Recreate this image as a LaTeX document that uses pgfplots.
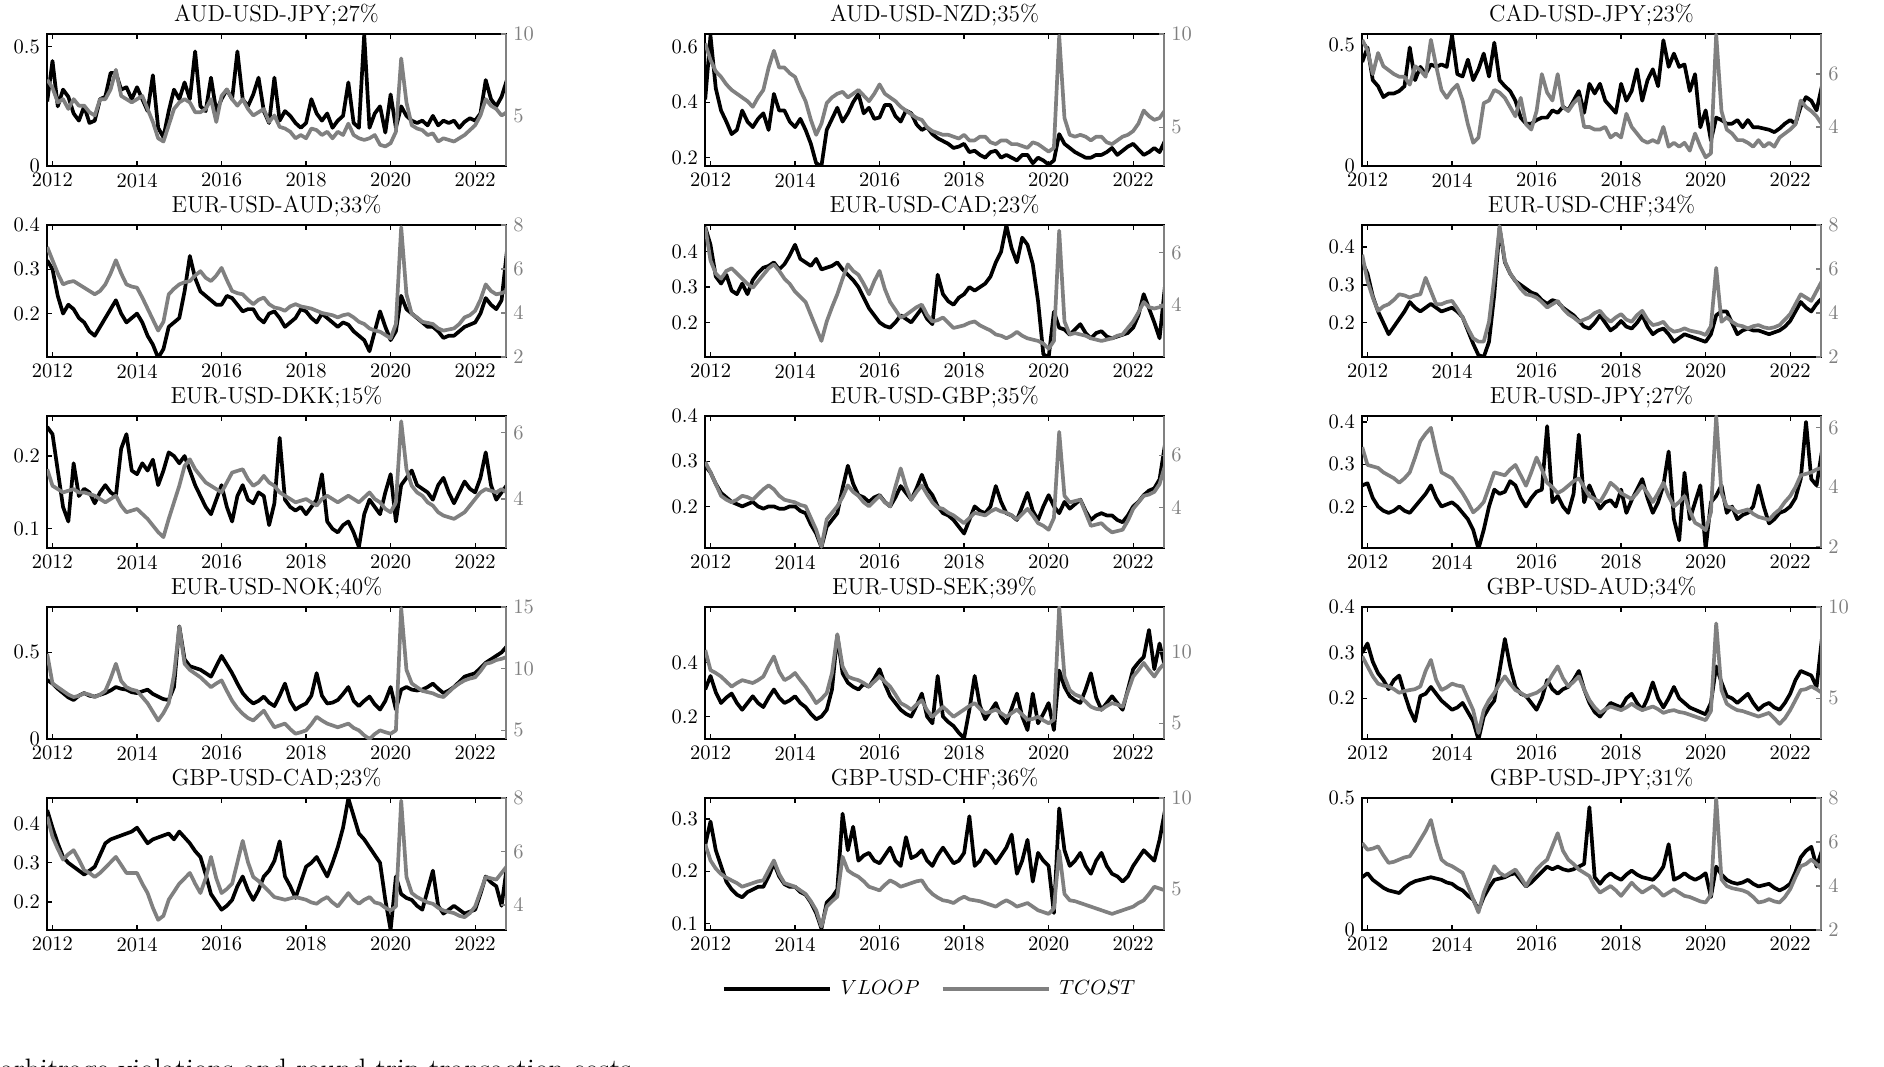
\documentclass[border=0pt]{standalone}
\usepackage{pgfplots}
\usepackage{pgfplotstable}
\pgfplotsset{compat=1.18}

\definecolor{tgray}{gray}{0.5}
\def\pxu{0.4878pt}

% ---------- VLOOP (v*) and TCOST (c*) series, 8 observations per year from 2011.875 ----------
\pgfplotstableread[row sep=\\]{y\\
0.27\\
0.44\\ 0.25\\ 0.32\\ 0.29\\ 0.22\\ 0.19\\ 0.25\\ 0.18\\
0.19\\ 0.28\\ 0.29\\ 0.39\\ 0.39\\ 0.32\\ 0.33\\ 0.28\\
0.33\\ 0.28\\ 0.23\\ 0.38\\ 0.16\\ 0.12\\ 0.23\\ 0.32\\
0.28\\ 0.35\\ 0.28\\ 0.48\\ 0.25\\ 0.23\\ 0.37\\ 0.23\\
0.28\\ 0.32\\ 0.28\\ 0.48\\ 0.28\\ 0.25\\ 0.30\\ 0.37\\
0.23\\ 0.18\\ 0.37\\ 0.19\\ 0.23\\ 0.21\\ 0.18\\ 0.16\\
0.18\\ 0.28\\ 0.22\\ 0.19\\ 0.22\\ 0.16\\ 0.19\\ 0.21\\
0.35\\ 0.18\\ 0.16\\ 0.55\\ 0.16\\ 0.22\\ 0.25\\ 0.14\\
0.30\\ 0.16\\ 0.25\\ 0.21\\ 0.19\\ 0.18\\ 0.19\\ 0.17\\
0.21\\ 0.17\\ 0.19\\ 0.18\\ 0.19\\ 0.16\\ 0.185\\ 0.20\\
0.19\\ 0.22\\ 0.36\\ 0.28\\ 0.25\\ 0.29\\ 0.36\\
}\vA
\pgfplotstableread[row sep=\\]{y\\
7.2\\
6.7\\ 5.8\\ 6.0\\ 5.4\\ 6.0\\ 5.6\\ 5.6\\ 5.2\\
5.0\\ 6.0\\ 6.0\\ 6.6\\ 7.8\\ 6.2\\ 6.0\\ 5.8\\
6.0\\ 6.2\\ 5.4\\ 4.6\\ 3.6\\ 3.4\\ 4.4\\ 5.4\\
5.8\\ 6.0\\ 5.8\\ 5.2\\ 5.2\\ 5.4\\ 6.0\\ 4.6\\
6.2\\ 6.6\\ 6.0\\ 5.6\\ 6.0\\ 5.4\\ 5.0\\ 5.2\\
5.4\\ 4.6\\ 5.0\\ 4.3\\ 4.2\\ 4.0\\ 3.6\\ 3.8\\
3.6\\ 4.2\\ 4.1\\ 3.8\\ 4.0\\ 3.6\\ 4.0\\ 3.8\\
4.5\\ 3.8\\ 3.6\\ 3.5\\ 3.6\\ 3.8\\ 3.2\\ 3.1\\
3.3\\ 4.0\\ 8.5\\ 5.8\\ 4.4\\ 4.2\\ 4.1\\ 3.8\\
3.9\\ 3.4\\ 3.6\\ 3.5\\ 3.4\\ 3.6\\ 3.8\\ 4.1\\
4.4\\ 5.0\\ 6.0\\ 5.6\\ 5.4\\ 5.0\\ 5.2\\
}\cA
\pgfplotstableread[row sep=\\]{y\\
0.41\\
0.64\\ 0.45\\ 0.37\\ 0.33\\ 0.285\\ 0.30\\ 0.37\\ 0.33\\
0.31\\ 0.34\\ 0.36\\ 0.30\\ 0.43\\ 0.37\\ 0.37\\ 0.33\\
0.31\\ 0.34\\ 0.30\\ 0.25\\ 0.18\\ 0.17\\ 0.30\\ 0.34\\
0.38\\ 0.33\\ 0.36\\ 0.40\\ 0.43\\ 0.36\\ 0.38\\ 0.34\\
0.345\\ 0.39\\ 0.39\\ 0.35\\ 0.33\\ 0.37\\ 0.36\\ 0.32\\
0.30\\ 0.31\\ 0.285\\ 0.27\\ 0.26\\ 0.25\\ 0.235\\ 0.24\\
0.25\\ 0.22\\ 0.225\\ 0.21\\ 0.20\\ 0.22\\ 0.225\\ 0.20\\
0.21\\ 0.20\\ 0.19\\ 0.21\\ 0.21\\ 0.18\\ 0.20\\ 0.19\\
0.175\\ 0.19\\ 0.285\\ 0.25\\ 0.235\\ 0.22\\ 0.21\\ 0.20\\
0.20\\ 0.21\\ 0.21\\ 0.22\\ 0.235\\ 0.21\\ 0.225\\ 0.24\\
0.25\\ 0.23\\ 0.21\\ 0.22\\ 0.235\\ 0.22\\ 0.26\\
}\vB
\pgfplotstableread[row sep=\\]{y\\
9.5\\
8.6\\ 8.0\\ 7.7\\ 7.3\\ 7.0\\ 6.8\\ 6.6\\ 6.4\\
6.1\\ 6.6\\ 7.0\\ 8.2\\ 9.1\\ 8.2\\ 8.2\\ 7.9\\
7.7\\ 7.0\\ 6.4\\ 5.4\\ 4.6\\ 5.2\\ 6.3\\ 6.6\\
6.8\\ 6.9\\ 6.6\\ 6.8\\ 7.0\\ 6.7\\ 6.4\\ 6.8\\
7.3\\ 6.8\\ 6.6\\ 6.4\\ 6.1\\ 5.9\\ 5.7\\ 5.5\\
5.4\\ 5.0\\ 4.8\\ 4.7\\ 4.6\\ 4.6\\ 4.5\\ 4.4\\
4.6\\ 4.3\\ 4.3\\ 4.5\\ 4.5\\ 4.2\\ 4.1\\ 4.3\\
4.3\\ 4.1\\ 4.1\\ 4.0\\ 3.9\\ 4.2\\ 4.1\\ 3.9\\
3.7\\ 3.9\\ 9.9\\ 5.5\\ 4.6\\ 4.5\\ 4.6\\ 4.5\\
4.3\\ 4.5\\ 4.5\\ 4.2\\ 4.1\\ 4.3\\ 4.5\\ 4.6\\
4.8\\ 5.2\\ 5.9\\ 5.6\\ 5.4\\ 5.5\\ 5.9\\
}\cB
\pgfplotstableread[row sep=\\]{y\\
0.43\\
0.49\\ 0.355\\ 0.33\\ 0.285\\ 0.30\\ 0.30\\ 0.31\\ 0.33\\
0.49\\ 0.355\\ 0.41\\ 0.38\\ 0.42\\ 0.41\\ 0.42\\ 0.41\\
0.54\\ 0.38\\ 0.37\\ 0.44\\ 0.355\\ 0.40\\ 0.465\\ 0.37\\
0.51\\ 0.355\\ 0.33\\ 0.31\\ 0.27\\ 0.20\\ 0.175\\ 0.175\\
0.19\\ 0.20\\ 0.20\\ 0.23\\ 0.22\\ 0.245\\ 0.23\\ 0.27\\
0.31\\ 0.22\\ 0.34\\ 0.30\\ 0.34\\ 0.27\\ 0.245\\ 0.22\\
0.34\\ 0.27\\ 0.31\\ 0.40\\ 0.27\\ 0.355\\ 0.40\\ 0.33\\
0.52\\ 0.41\\ 0.465\\ 0.41\\ 0.42\\ 0.31\\ 0.38\\ 0.16\\
0.23\\ 0.105\\ 0.20\\ 0.19\\ 0.175\\ 0.175\\ 0.19\\ 0.16\\
0.19\\ 0.16\\ 0.16\\ 0.155\\ 0.15\\ 0.14\\ 0.155\\ 0.175\\
0.19\\ 0.175\\ 0.245\\ 0.285\\ 0.27\\ 0.23\\ 0.33\\
}\vC
\pgfplotstableread[row sep=\\]{y\\
7.3\\
6.9\\ 6.0\\ 6.8\\ 6.3\\ 6.15\\ 6.0\\ 5.9\\ 5.9\\
5.6\\ 6.3\\ 6.15\\ 5.9\\ 7.3\\ 6.3\\ 5.4\\ 5.1\\
5.4\\ 5.6\\ 5.0\\ 4.1\\ 3.4\\ 3.6\\ 4.9\\ 5.0\\
5.4\\ 5.3\\ 5.1\\ 4.75\\ 4.4\\ 5.1\\ 4.1\\ 3.9\\
4.6\\ 6.0\\ 5.3\\ 5.0\\ 6.0\\ 4.75\\ 4.6\\ 4.9\\
5.1\\ 4.0\\ 4.0\\ 3.9\\ 3.9\\ 4.0\\ 3.6\\ 3.75\\
3.6\\ 4.5\\ 4.0\\ 3.75\\ 3.5\\ 3.4\\ 3.5\\ 3.4\\
4.0\\ 3.25\\ 3.4\\ 3.25\\ 3.4\\ 3.1\\ 3.75\\ 3.25\\
2.85\\ 3.0\\ 7.5\\ 4.6\\ 3.9\\ 3.75\\ 3.5\\ 3.5\\
3.4\\ 3.25\\ 3.5\\ 3.25\\ 3.4\\ 3.25\\ 3.6\\ 3.75\\
3.9\\ 4.1\\ 5.0\\ 4.75\\ 4.6\\ 4.4\\ 4.1\\
}\cC
\pgfplotstableread[row sep=\\]{y\\
0.32\\
0.30\\ 0.24\\ 0.20\\ 0.22\\ 0.21\\ 0.19\\ 0.18\\ 0.16\\
0.15\\ 0.17\\ 0.19\\ 0.21\\ 0.23\\ 0.20\\ 0.18\\ 0.19\\
0.20\\ 0.18\\ 0.15\\ 0.13\\ 0.10\\ 0.12\\ 0.17\\ 0.18\\
0.19\\ 0.25\\ 0.33\\ 0.28\\ 0.25\\ 0.24\\ 0.23\\ 0.22\\
0.22\\ 0.24\\ 0.235\\ 0.22\\ 0.205\\ 0.21\\ 0.21\\ 0.19\\
0.18\\ 0.20\\ 0.205\\ 0.19\\ 0.17\\ 0.18\\ 0.19\\ 0.21\\
0.205\\ 0.19\\ 0.18\\ 0.20\\ 0.19\\ 0.18\\ 0.17\\ 0.18\\
0.175\\ 0.16\\ 0.15\\ 0.14\\ 0.115\\ 0.16\\ 0.205\\ 0.17\\
0.14\\ 0.16\\ 0.24\\ 0.21\\ 0.20\\ 0.19\\ 0.18\\ 0.17\\
0.17\\ 0.16\\ 0.145\\ 0.15\\ 0.15\\ 0.16\\ 0.17\\ 0.175\\
0.18\\ 0.20\\ 0.235\\ 0.22\\ 0.21\\ 0.23\\ 0.34\\
}\vD
\pgfplotstableread[row sep=\\]{y\\
7.0\\
6.4\\ 5.8\\ 5.3\\ 5.4\\ 5.45\\ 5.3\\ 5.15\\ 5.0\\
4.85\\ 5.0\\ 5.3\\ 5.8\\ 6.4\\ 5.8\\ 5.3\\ 5.2\\
5.15\\ 4.7\\ 4.2\\ 3.7\\ 3.2\\ 3.6\\ 4.85\\ 5.1\\
5.3\\ 5.4\\ 5.45\\ 5.7\\ 5.9\\ 5.6\\ 5.45\\ 5.7\\
6.05\\ 5.5\\ 5.0\\ 4.9\\ 4.85\\ 4.6\\ 4.4\\ 4.6\\
4.7\\ 4.4\\ 4.25\\ 4.2\\ 4.1\\ 4.3\\ 4.4\\ 4.3\\
4.25\\ 4.2\\ 4.1\\ 4.0\\ 3.95\\ 3.9\\ 3.8\\ 3.9\\
3.95\\ 3.8\\ 3.6\\ 3.5\\ 3.3\\ 3.2\\ 3.15\\ 3.0\\
2.85\\ 3.5\\ 7.9\\ 4.85\\ 3.95\\ 3.8\\ 3.6\\ 3.55\\
3.5\\ 3.3\\ 3.2\\ 3.25\\ 3.3\\ 3.5\\ 3.8\\ 3.9\\
4.1\\ 4.6\\ 5.3\\ 5.0\\ 4.85\\ 4.9\\ 5.0\\
}\cD
\pgfplotstableread[row sep=\\]{y\\
0.47\\
0.42\\ 0.33\\ 0.31\\ 0.335\\ 0.29\\ 0.28\\ 0.31\\ 0.28\\
0.32\\ 0.34\\ 0.355\\ 0.36\\ 0.37\\ 0.35\\ 0.365\\ 0.39\\
0.42\\ 0.38\\ 0.37\\ 0.36\\ 0.38\\ 0.35\\ 0.355\\ 0.36\\
0.37\\ 0.35\\ 0.335\\ 0.32\\ 0.30\\ 0.27\\ 0.24\\ 0.22\\
0.20\\ 0.19\\ 0.185\\ 0.20\\ 0.22\\ 0.21\\ 0.20\\ 0.22\\
0.24\\ 0.21\\ 0.195\\ 0.335\\ 0.28\\ 0.26\\ 0.25\\ 0.27\\
0.28\\ 0.30\\ 0.29\\ 0.30\\ 0.31\\ 0.33\\ 0.37\\ 0.40\\
0.475\\ 0.41\\ 0.37\\ 0.44\\ 0.42\\ 0.365\\ 0.26\\ 0.11\\
0.10\\ 0.23\\ 0.185\\ 0.18\\ 0.165\\ 0.18\\ 0.195\\ 0.17\\
0.155\\ 0.17\\ 0.175\\ 0.16\\ 0.155\\ 0.16\\ 0.165\\ 0.17\\
0.185\\ 0.22\\ 0.28\\ 0.24\\ 0.20\\ 0.155\\ 0.30\\
}\vE
\pgfplotstableread[row sep=\\]{y\\
7.0\\
5.7\\ 5.2\\ 5.0\\ 5.3\\ 5.4\\ 5.2\\ 5.0\\ 4.8\\
4.65\\ 4.9\\ 5.15\\ 5.4\\ 5.55\\ 5.3\\ 5.0\\ 4.8\\
4.5\\ 4.3\\ 4.1\\ 3.6\\ 3.1\\ 2.6\\ 3.35\\ 3.9\\
4.4\\ 5.0\\ 5.55\\ 5.3\\ 5.15\\ 4.8\\ 4.4\\ 4.9\\
5.3\\ 4.6\\ 4.1\\ 3.8\\ 3.5\\ 3.6\\ 3.75\\ 3.9\\
4.0\\ 3.6\\ 3.35\\ 3.4\\ 3.5\\ 3.3\\ 3.1\\ 3.15\\
3.2\\ 3.3\\ 3.35\\ 3.2\\ 3.1\\ 3.0\\ 2.85\\ 2.8\\
2.7\\ 2.8\\ 2.95\\ 2.8\\ 2.7\\ 2.65\\ 2.6\\ 2.5\\
2.3\\ 2.6\\ 6.85\\ 3.35\\ 2.85\\ 2.9\\ 2.85\\ 2.8\\
2.7\\ 2.65\\ 2.6\\ 2.65\\ 2.7\\ 2.8\\ 2.85\\ 3.1\\
3.35\\ 3.7\\ 4.1\\ 3.9\\ 3.85\\ 3.9\\ 4.0\\
}\cE
\pgfplotstableread[row sep=\\]{y\\
0.36\\
0.33\\ 0.27\\ 0.23\\ 0.20\\ 0.17\\ 0.19\\ 0.21\\ 0.23\\
0.255\\ 0.24\\ 0.23\\ 0.24\\ 0.25\\ 0.24\\ 0.23\\ 0.235\\
0.24\\ 0.23\\ 0.215\\ 0.18\\ 0.145\\ 0.115\\ 0.11\\ 0.15\\
0.275\\ 0.45\\ 0.36\\ 0.33\\ 0.31\\ 0.30\\ 0.29\\ 0.28\\
0.275\\ 0.26\\ 0.25\\ 0.26\\ 0.255\\ 0.24\\ 0.23\\ 0.22\\
0.205\\ 0.19\\ 0.185\\ 0.20\\ 0.22\\ 0.20\\ 0.18\\ 0.19\\
0.205\\ 0.19\\ 0.185\\ 0.20\\ 0.22\\ 0.19\\ 0.17\\ 0.18\\
0.185\\ 0.17\\ 0.15\\ 0.16\\ 0.17\\ 0.165\\ 0.16\\ 0.155\\
0.15\\ 0.17\\ 0.22\\ 0.23\\ 0.23\\ 0.20\\ 0.17\\ 0.18\\
0.185\\ 0.18\\ 0.18\\ 0.175\\ 0.17\\ 0.175\\ 0.18\\ 0.19\\
0.205\\ 0.23\\ 0.255\\ 0.24\\ 0.23\\ 0.25\\ 0.265\\
}\vF
\pgfplotstableread[row sep=\\]{y\\
6.65\\
5.45\\ 4.7\\ 4.1\\ 4.3\\ 4.4\\ 4.6\\ 4.85\\ 4.8\\
4.7\\ 4.8\\ 4.85\\ 5.6\\ 5.0\\ 4.4\\ 4.4\\ 4.5\\
4.55\\ 4.2\\ 3.8\\ 3.3\\ 2.85\\ 2.7\\ 2.7\\ 3.6\\
5.6\\ 7.95\\ 6.35\\ 5.8\\ 5.45\\ 5.1\\ 4.85\\ 4.8\\
4.7\\ 4.5\\ 4.25\\ 4.4\\ 4.55\\ 4.2\\ 3.95\\ 3.8\\
3.6\\ 3.7\\ 3.8\\ 4.0\\ 4.1\\ 3.8\\ 3.6\\ 3.8\\
3.95\\ 3.7\\ 3.6\\ 3.9\\ 4.1\\ 3.7\\ 3.45\\ 3.5\\
3.6\\ 3.3\\ 3.15\\ 3.2\\ 3.3\\ 3.2\\ 3.15\\ 3.1\\
3.0\\ 3.4\\ 6.05\\ 3.6\\ 3.8\\ 3.6\\ 3.45\\ 3.4\\
3.3\\ 3.4\\ 3.45\\ 3.35\\ 3.3\\ 3.35\\ 3.45\\ 3.7\\
3.95\\ 4.4\\ 4.85\\ 4.7\\ 4.55\\ 5.0\\ 5.45\\
}\cF
\pgfplotstableread[row sep=\\]{y\\
0.24\\
0.23\\ 0.18\\ 0.13\\ 0.11\\ 0.19\\ 0.145\\ 0.155\\ 0.15\\
0.135\\ 0.15\\ 0.16\\ 0.15\\ 0.145\\ 0.21\\ 0.23\\ 0.18\\
0.175\\ 0.19\\ 0.18\\ 0.195\\ 0.16\\ 0.18\\ 0.205\\ 0.20\\
0.19\\ 0.20\\ 0.18\\ 0.16\\ 0.145\\ 0.13\\ 0.12\\ 0.14\\
0.16\\ 0.13\\ 0.11\\ 0.145\\ 0.16\\ 0.14\\ 0.135\\ 0.15\\
0.145\\ 0.105\\ 0.135\\ 0.225\\ 0.14\\ 0.13\\ 0.125\\ 0.13\\
0.12\\ 0.13\\ 0.14\\ 0.175\\ 0.11\\ 0.10\\ 0.095\\ 0.105\\
0.11\\ 0.095\\ 0.075\\ 0.12\\ 0.14\\ 0.13\\ 0.12\\ 0.15\\
0.175\\ 0.11\\ 0.16\\ 0.17\\ 0.18\\ 0.16\\ 0.155\\ 0.15\\
0.14\\ 0.16\\ 0.17\\ 0.15\\ 0.135\\ 0.15\\ 0.165\\ 0.155\\
0.15\\ 0.17\\ 0.205\\ 0.16\\ 0.14\\ 0.15\\ 0.16\\
}\vG
\pgfplotstableread[row sep=\\]{y\\
4.9\\
4.4\\ 4.3\\ 4.2\\ 4.25\\ 4.3\\ 4.2\\ 4.2\\ 4.15\\
4.1\\ 4.0\\ 3.9\\ 4.0\\ 4.1\\ 3.8\\ 3.6\\ 3.65\\
3.7\\ 3.55\\ 3.4\\ 3.2\\ 3.0\\ 2.85\\ 3.4\\ 3.9\\
4.4\\ 5.0\\ 5.2\\ 4.9\\ 4.7\\ 4.5\\ 4.4\\ 4.3\\
4.2\\ 4.5\\ 4.8\\ 4.85\\ 4.9\\ 4.6\\ 4.4\\ 4.5\\
4.7\\ 4.5\\ 4.4\\ 4.2\\ 4.1\\ 4.0\\ 3.9\\ 3.95\\
4.0\\ 3.9\\ 3.8\\ 4.0\\ 4.1\\ 4.0\\ 3.9\\ 4.0\\
4.1\\ 4.0\\ 3.9\\ 4.05\\ 4.2\\ 4.0\\ 3.9\\ 3.7\\
3.6\\ 3.9\\ 6.35\\ 4.9\\ 4.4\\ 4.2\\ 4.1\\ 3.9\\
3.8\\ 3.6\\ 3.5\\ 3.45\\ 3.4\\ 3.5\\ 3.6\\ 3.8\\
4.0\\ 4.2\\ 4.3\\ 4.25\\ 4.2\\ 4.3\\ 4.2\\
}\cG
\pgfplotstableread[row sep=\\]{y\\
0.29\\
0.275\\ 0.25\\ 0.23\\ 0.22\\ 0.21\\ 0.205\\ 0.20\\ 0.205\\
0.21\\ 0.20\\ 0.195\\ 0.20\\ 0.20\\ 0.195\\ 0.195\\ 0.20\\
0.20\\ 0.19\\ 0.185\\ 0.16\\ 0.14\\ 0.11\\ 0.155\\ 0.17\\
0.185\\ 0.24\\ 0.29\\ 0.25\\ 0.225\\ 0.22\\ 0.21\\ 0.22\\
0.225\\ 0.21\\ 0.20\\ 0.22\\ 0.245\\ 0.23\\ 0.215\\ 0.24\\
0.27\\ 0.24\\ 0.225\\ 0.20\\ 0.185\\ 0.18\\ 0.17\\ 0.155\\
0.14\\ 0.17\\ 0.20\\ 0.19\\ 0.185\\ 0.20\\ 0.245\\ 0.21\\
0.185\\ 0.18\\ 0.17\\ 0.20\\ 0.23\\ 0.19\\ 0.17\\ 0.20\\
0.225\\ 0.20\\ 0.185\\ 0.21\\ 0.195\\ 0.205\\ 0.215\\ 0.19\\
0.17\\ 0.18\\ 0.185\\ 0.18\\ 0.18\\ 0.17\\ 0.165\\ 0.18\\
0.20\\ 0.21\\ 0.225\\ 0.235\\ 0.24\\ 0.26\\ 0.335\\
}\vH
\pgfplotstableread[row sep=\\]{y\\
5.75\\
5.35\\ 4.9\\ 4.45\\ 4.3\\ 4.2\\ 4.3\\ 4.45\\ 4.4\\
4.3\\ 4.5\\ 4.7\\ 4.85\\ 4.7\\ 4.45\\ 4.3\\ 4.25\\
4.2\\ 4.1\\ 4.05\\ 3.6\\ 3.15\\ 2.5\\ 3.55\\ 3.8\\
4.05\\ 4.4\\ 4.85\\ 4.6\\ 4.45\\ 4.2\\ 4.05\\ 4.25\\
4.45\\ 4.2\\ 4.05\\ 4.8\\ 5.5\\ 4.8\\ 4.3\\ 4.6\\
4.85\\ 4.5\\ 4.2\\ 4.0\\ 3.95\\ 3.8\\ 3.7\\ 3.55\\
3.4\\ 3.6\\ 3.8\\ 3.75\\ 3.7\\ 3.85\\ 3.95\\ 3.85\\
3.8\\ 3.7\\ 3.55\\ 3.75\\ 3.95\\ 3.7\\ 3.4\\ 3.3\\
3.15\\ 3.6\\ 6.9\\ 4.45\\ 4.2\\ 4.25\\ 4.3\\ 3.8\\
3.3\\ 3.35\\ 3.4\\ 3.2\\ 3.05\\ 3.1\\ 3.15\\ 3.5\\
3.95\\ 4.2\\ 4.45\\ 4.5\\ 4.6\\ 4.9\\ 5.6\\
}\cH
\pgfplotstableread[row sep=\\]{y\\
0.25\\
0.255\\ 0.22\\ 0.20\\ 0.19\\ 0.185\\ 0.19\\ 0.20\\ 0.19\\
0.185\\ 0.20\\ 0.215\\ 0.23\\ 0.25\\ 0.22\\ 0.20\\ 0.205\\
0.21\\ 0.20\\ 0.185\\ 0.17\\ 0.145\\ 0.10\\ 0.145\\ 0.20\\
0.24\\ 0.23\\ 0.235\\ 0.26\\ 0.25\\ 0.22\\ 0.20\\ 0.22\\
0.235\\ 0.24\\ 0.39\\ 0.21\\ 0.225\\ 0.20\\ 0.185\\ 0.23\\
0.37\\ 0.21\\ 0.25\\ 0.22\\ 0.195\\ 0.21\\ 0.215\\ 0.20\\
0.24\\ 0.185\\ 0.215\\ 0.24\\ 0.265\\ 0.22\\ 0.185\\ 0.21\\
0.25\\ 0.33\\ 0.17\\ 0.12\\ 0.28\\ 0.17\\ 0.21\\ 0.25\\
0.10\\ 0.21\\ 0.225\\ 0.25\\ 0.185\\ 0.20\\ 0.17\\ 0.18\\
0.185\\ 0.20\\ 0.25\\ 0.20\\ 0.16\\ 0.17\\ 0.185\\ 0.19\\
0.20\\ 0.22\\ 0.265\\ 0.40\\ 0.265\\ 0.25\\ 0.33\\
}\vI
\pgfplotstableread[row sep=\\]{y\\
5.35\\
4.75\\ 4.7\\ 4.65\\ 4.5\\ 4.4\\ 4.3\\ 4.15\\ 4.3\\
4.5\\ 5.0\\ 5.55\\ 5.8\\ 6.0\\ 5.2\\ 4.5\\ 4.4\\
4.3\\ 4.05\\ 3.8\\ 3.5\\ 3.15\\ 3.3\\ 3.5\\ 4.0\\
4.5\\ 4.45\\ 4.4\\ 4.6\\ 4.75\\ 4.4\\ 4.05\\ 4.5\\
5.0\\ 4.6\\ 4.15\\ 4.0\\ 3.8\\ 3.9\\ 4.05\\ 4.2\\
4.3\\ 4.0\\ 3.7\\ 3.6\\ 3.5\\ 3.8\\ 4.15\\ 4.0\\
3.8\\ 3.7\\ 3.6\\ 3.8\\ 4.05\\ 3.8\\ 3.5\\ 3.8\\
4.15\\ 3.7\\ 3.35\\ 3.5\\ 3.7\\ 3.2\\ 2.8\\ 2.7\\
2.55\\ 3.15\\ 6.4\\ 3.8\\ 3.35\\ 3.3\\ 3.15\\ 3.2\\
3.25\\ 3.1\\ 3.0\\ 2.95\\ 2.9\\ 3.1\\ 3.25\\ 3.5\\
3.7\\ 4.0\\ 4.4\\ 4.45\\ 4.5\\ 4.6\\ 4.65\\
}\cI
\pgfplotstableread[row sep=\\]{y\\
0.34\\
0.32\\ 0.29\\ 0.265\\ 0.24\\ 0.225\\ 0.25\\ 0.265\\ 0.25\\
0.245\\ 0.255\\ 0.265\\ 0.28\\ 0.30\\ 0.29\\ 0.285\\ 0.27\\
0.265\\ 0.275\\ 0.285\\ 0.26\\ 0.245\\ 0.23\\ 0.225\\ 0.30\\
0.65\\ 0.46\\ 0.42\\ 0.41\\ 0.40\\ 0.38\\ 0.36\\ 0.42\\
0.48\\ 0.43\\ 0.38\\ 0.32\\ 0.265\\ 0.23\\ 0.205\\ 0.22\\
0.245\\ 0.21\\ 0.19\\ 0.25\\ 0.32\\ 0.22\\ 0.17\\ 0.19\\
0.205\\ 0.25\\ 0.38\\ 0.25\\ 0.205\\ 0.21\\ 0.225\\ 0.26\\
0.30\\ 0.22\\ 0.19\\ 0.22\\ 0.245\\ 0.20\\ 0.17\\ 0.22\\
0.30\\ 0.17\\ 0.285\\ 0.30\\ 0.285\\ 0.28\\ 0.285\\ 0.30\\
0.32\\ 0.29\\ 0.265\\ 0.28\\ 0.30\\ 0.33\\ 0.36\\ 0.37\\
0.38\\ 0.41\\ 0.44\\ 0.46\\ 0.48\\ 0.50\\ 0.535\\
}\vJ
\pgfplotstableread[row sep=\\]{y\\
11.2\\
8.8\\ 8.5\\ 8.2\\ 7.9\\ 7.7\\ 7.8\\ 8.0\\ 7.9\\
7.7\\ 7.9\\ 8.2\\ 9.2\\ 10.4\\ 9.0\\ 8.5\\ 8.3\\
8.2\\ 7.7\\ 7.2\\ 6.5\\ 5.8\\ 6.4\\ 7.2\\ 9.5\\
13.4\\ 10.4\\ 9.9\\ 9.6\\ 9.3\\ 8.9\\ 8.5\\ 8.8\\
9.05\\ 8.2\\ 7.4\\ 6.8\\ 6.35\\ 6.0\\ 5.8\\ 6.2\\
6.6\\ 5.9\\ 5.25\\ 5.4\\ 5.55\\ 5.1\\ 4.73\\ 4.85\\
5.0\\ 5.5\\ 6.1\\ 5.8\\ 5.55\\ 5.4\\ 5.25\\ 5.4\\
5.55\\ 5.2\\ 5.0\\ 4.6\\ 4.3\\ 4.7\\ 5.0\\ 4.85\\
4.73\\ 5.0\\ 14.9\\ 9.9\\ 8.8\\ 8.5\\ 8.2\\ 8.1\\
8.0\\ 7.8\\ 7.7\\ 8.1\\ 8.5\\ 8.8\\ 9.05\\ 9.2\\
9.3\\ 9.8\\ 10.4\\ 10.5\\ 10.7\\ 10.8\\ 10.95\\
}\cJ
\pgfplotstableread[row sep=\\]{y\\
0.30\\
0.35\\ 0.29\\ 0.25\\ 0.27\\ 0.285\\ 0.25\\ 0.225\\ 0.25\\
0.275\\ 0.25\\ 0.235\\ 0.27\\ 0.30\\ 0.27\\ 0.25\\ 0.26\\
0.275\\ 0.25\\ 0.235\\ 0.21\\ 0.19\\ 0.20\\ 0.225\\ 0.30\\
0.50\\ 0.36\\ 0.325\\ 0.31\\ 0.30\\ 0.32\\ 0.31\\ 0.34\\
0.375\\ 0.32\\ 0.275\\ 0.25\\ 0.225\\ 0.21\\ 0.20\\ 0.24\\
0.285\\ 0.20\\ 0.175\\ 0.35\\ 0.20\\ 0.18\\ 0.165\\ 0.14\\
0.12\\ 0.225\\ 0.35\\ 0.24\\ 0.19\\ 0.22\\ 0.25\\ 0.20\\
0.175\\ 0.23\\ 0.285\\ 0.20\\ 0.15\\ 0.285\\ 0.175\\ 0.21\\
0.25\\ 0.15\\ 0.37\\ 0.31\\ 0.275\\ 0.26\\ 0.25\\ 0.30\\
0.36\\ 0.27\\ 0.225\\ 0.25\\ 0.275\\ 0.25\\ 0.225\\ 0.30\\
0.375\\ 0.40\\ 0.42\\ 0.52\\ 0.375\\ 0.47\\ 0.385\\
}\vK
\pgfplotstableread[row sep=\\]{y\\
10.1\\
8.7\\ 8.5\\ 8.25\\ 7.9\\ 7.55\\ 7.8\\ 8.0\\ 7.9\\
7.8\\ 8.0\\ 8.25\\ 9.0\\ 9.65\\ 8.6\\ 8.0\\ 8.2\\
8.5\\ 8.0\\ 7.55\\ 7.0\\ 6.4\\ 6.7\\ 7.1\\ 8.5\\
11.2\\ 8.95\\ 8.25\\ 8.1\\ 8.0\\ 7.8\\ 7.55\\ 7.9\\
8.25\\ 7.9\\ 7.55\\ 7.0\\ 6.4\\ 6.2\\ 5.95\\ 6.3\\
6.6\\ 5.9\\ 5.45\\ 5.8\\ 6.15\\ 5.8\\ 5.45\\ 5.7\\
5.95\\ 6.2\\ 6.4\\ 6.0\\ 5.7\\ 5.8\\ 5.95\\ 5.7\\
5.45\\ 5.7\\ 5.95\\ 5.6\\ 5.25\\ 5.3\\ 5.45\\ 5.2\\
5.0\\ 5.25\\ 13.1\\ 8.25\\ 7.3\\ 7.0\\ 6.85\\ 6.5\\
6.15\\ 6.0\\ 5.95\\ 6.2\\ 6.4\\ 6.3\\ 6.15\\ 7.2\\
8.25\\ 8.7\\ 9.2\\ 8.7\\ 8.25\\ 8.8\\ 9.2\\
}\cK
\pgfplotstableread[row sep=\\]{y\\
0.30\\
0.32\\ 0.28\\ 0.255\\ 0.24\\ 0.22\\ 0.24\\ 0.25\\ 0.21\\
0.175\\ 0.15\\ 0.205\\ 0.21\\ 0.225\\ 0.21\\ 0.195\\ 0.185\\
0.175\\ 0.18\\ 0.19\\ 0.17\\ 0.15\\ 0.11\\ 0.16\\ 0.18\\
0.195\\ 0.26\\ 0.33\\ 0.27\\ 0.225\\ 0.21\\ 0.205\\ 0.19\\
0.175\\ 0.20\\ 0.24\\ 0.22\\ 0.21\\ 0.22\\ 0.225\\ 0.24\\
0.26\\ 0.22\\ 0.19\\ 0.17\\ 0.16\\ 0.175\\ 0.19\\ 0.185\\
0.18\\ 0.20\\ 0.21\\ 0.19\\ 0.175\\ 0.20\\ 0.235\\ 0.20\\
0.18\\ 0.20\\ 0.225\\ 0.20\\ 0.19\\ 0.18\\ 0.175\\ 0.17\\
0.165\\ 0.19\\ 0.27\\ 0.235\\ 0.205\\ 0.20\\ 0.19\\ 0.20\\
0.21\\ 0.19\\ 0.175\\ 0.185\\ 0.19\\ 0.18\\ 0.175\\ 0.19\\
0.21\\ 0.24\\ 0.26\\ 0.255\\ 0.25\\ 0.225\\ 0.33\\
}\vL
\pgfplotstableread[row sep=\\]{y\\
7.3\\
6.75\\ 6.2\\ 5.8\\ 5.7\\ 5.65\\ 5.5\\ 5.3\\ 5.4\\
5.45\\ 5.5\\ 5.65\\ 6.5\\ 7.1\\ 6.0\\ 5.45\\ 5.6\\
5.8\\ 5.7\\ 5.65\\ 5.0\\ 4.35\\ 3.1\\ 4.35\\ 4.9\\
5.3\\ 5.8\\ 6.2\\ 5.8\\ 5.45\\ 5.3\\ 5.1\\ 5.2\\
5.3\\ 5.5\\ 5.8\\ 6.3\\ 6.75\\ 6.1\\ 5.65\\ 5.9\\
6.2\\ 5.5\\ 4.9\\ 4.5\\ 4.2\\ 4.4\\ 4.55\\ 4.45\\
4.35\\ 4.5\\ 4.7\\ 4.5\\ 4.35\\ 4.45\\ 4.55\\ 4.4\\
4.2\\ 4.3\\ 4.35\\ 4.25\\ 4.2\\ 4.1\\ 4.0\\ 3.9\\
3.8\\ 4.3\\ 9.1\\ 5.45\\ 4.7\\ 4.5\\ 4.35\\ 4.3\\
4.2\\ 4.1\\ 4.0\\ 4.1\\ 4.2\\ 3.9\\ 3.6\\ 3.9\\
4.35\\ 4.9\\ 5.45\\ 5.5\\ 5.65\\ 5.5\\ 5.3\\
}\cL
\pgfplotstableread[row sep=\\]{y\\
0.435\\
0.39\\ 0.35\\ 0.315\\ 0.30\\ 0.29\\ 0.28\\ 0.27\\ 0.28\\
0.29\\ 0.32\\ 0.35\\ 0.36\\ 0.365\\ 0.37\\ 0.375\\ 0.38\\
0.39\\ 0.37\\ 0.35\\ 0.36\\ 0.365\\ 0.37\\ 0.375\\ 0.36\\
0.38\\ 0.365\\ 0.35\\ 0.33\\ 0.315\\ 0.27\\ 0.22\\ 0.20\\
0.18\\ 0.19\\ 0.205\\ 0.24\\ 0.265\\ 0.23\\ 0.205\\ 0.23\\
0.265\\ 0.28\\ 0.305\\ 0.355\\ 0.265\\ 0.24\\ 0.21\\ 0.25\\
0.29\\ 0.30\\ 0.315\\ 0.29\\ 0.265\\ 0.30\\ 0.34\\ 0.39\\
0.465\\ 0.42\\ 0.375\\ 0.36\\ 0.34\\ 0.32\\ 0.30\\ 0.205\\
0.128\\ 0.265\\ 0.22\\ 0.21\\ 0.205\\ 0.19\\ 0.18\\ 0.23\\
0.28\\ 0.19\\ 0.17\\ 0.18\\ 0.19\\ 0.18\\ 0.17\\ 0.175\\
0.18\\ 0.22\\ 0.265\\ 0.25\\ 0.24\\ 0.19\\ 0.29\\
}\vM
\pgfplotstableread[row sep=\\]{y\\
7.3\\
6.55\\ 6.1\\ 5.7\\ 5.9\\ 6.05\\ 5.7\\ 5.3\\ 5.2\\
5.05\\ 5.2\\ 5.4\\ 5.6\\ 5.8\\ 5.5\\ 5.2\\ 5.2\\
5.2\\ 4.8\\ 4.45\\ 3.9\\ 3.45\\ 3.6\\ 4.2\\ 4.5\\
4.8\\ 5.0\\ 5.2\\ 4.8\\ 4.45\\ 5.0\\ 5.8\\ 5.0\\
4.45\\ 4.6\\ 4.8\\ 5.6\\ 6.4\\ 5.6\\ 5.05\\ 4.9\\
4.7\\ 4.5\\ 4.3\\ 4.25\\ 4.2\\ 4.25\\ 4.3\\ 4.25\\
4.2\\ 4.1\\ 4.05\\ 4.2\\ 4.3\\ 4.1\\ 3.95\\ 4.2\\
4.45\\ 4.2\\ 4.05\\ 4.2\\ 4.3\\ 4.1\\ 4.05\\ 3.9\\
3.8\\ 3.95\\ 7.9\\ 5.05\\ 4.45\\ 4.3\\ 4.2\\ 4.1\\
4.05\\ 3.9\\ 3.8\\ 3.75\\ 3.7\\ 3.6\\ 3.55\\ 3.7\\
3.95\\ 4.5\\ 5.05\\ 5.0\\ 4.95\\ 5.2\\ 5.45\\
}\cM
\pgfplotstableread[row sep=\\]{y\\
0.25\\
0.295\\ 0.24\\ 0.21\\ 0.18\\ 0.165\\ 0.155\\ 0.15\\ 0.16\\
0.165\\ 0.17\\ 0.17\\ 0.19\\ 0.215\\ 0.19\\ 0.175\\ 0.17\\
0.17\\ 0.16\\ 0.155\\ 0.14\\ 0.12\\ 0.09\\ 0.14\\ 0.15\\
0.165\\ 0.31\\ 0.24\\ 0.285\\ 0.22\\ 0.23\\ 0.235\\ 0.22\\
0.215\\ 0.23\\ 0.245\\ 0.22\\ 0.21\\ 0.265\\ 0.225\\ 0.23\\
0.24\\ 0.22\\ 0.21\\ 0.23\\ 0.245\\ 0.23\\ 0.215\\ 0.22\\
0.235\\ 0.305\\ 0.21\\ 0.22\\ 0.24\\ 0.23\\ 0.215\\ 0.23\\
0.245\\ 0.27\\ 0.195\\ 0.22\\ 0.26\\ 0.18\\ 0.235\\ 0.22\\
0.21\\ 0.12\\ 0.32\\ 0.24\\ 0.21\\ 0.22\\ 0.235\\ 0.21\\
0.195\\ 0.22\\ 0.235\\ 0.21\\ 0.195\\ 0.19\\ 0.18\\ 0.19\\
0.21\\ 0.225\\ 0.24\\ 0.23\\ 0.22\\ 0.26\\ 0.315\\
}\vN
\pgfplotstableread[row sep=\\]{y\\
7.45\\
6.55\\ 6.1\\ 5.8\\ 5.6\\ 5.45\\ 5.3\\ 5.1\\ 5.2\\
5.3\\ 5.4\\ 5.45\\ 6.0\\ 6.55\\ 5.8\\ 5.3\\ 5.2\\
5.1\\ 4.9\\ 4.7\\ 4.3\\ 3.8\\ 2.9\\ 4.0\\ 4.3\\
4.55\\ 6.75\\ 6.0\\ 5.8\\ 5.65\\ 5.4\\ 5.1\\ 5.0\\
4.9\\ 5.2\\ 5.45\\ 5.3\\ 5.1\\ 5.2\\ 5.3\\ 5.4\\
5.45\\ 5.0\\ 4.7\\ 4.5\\ 4.35\\ 4.3\\ 4.2\\ 4.4\\
4.55\\ 4.4\\ 4.35\\ 4.3\\ 4.2\\ 4.1\\ 4.0\\ 4.2\\
4.35\\ 4.2\\ 4.0\\ 4.1\\ 4.2\\ 4.0\\ 3.8\\ 3.7\\
3.6\\ 3.9\\ 7.1\\ 4.7\\ 4.35\\ 4.3\\ 4.2\\ 4.1\\
4.0\\ 3.9\\ 3.8\\ 3.7\\ 3.6\\ 3.7\\ 3.8\\ 3.9\\
4.0\\ 4.2\\ 4.35\\ 4.7\\ 5.1\\ 5.0\\ 4.9\\
}\cN
\pgfplotstableread[row sep=\\]{y\\
0.20\\
0.215\\ 0.19\\ 0.175\\ 0.16\\ 0.15\\ 0.145\\ 0.14\\ 0.16\\
0.175\\ 0.185\\ 0.19\\ 0.195\\ 0.20\\ 0.195\\ 0.19\\ 0.18\\
0.175\\ 0.16\\ 0.15\\ 0.13\\ 0.115\\ 0.075\\ 0.125\\ 0.16\\
0.19\\ 0.195\\ 0.20\\ 0.21\\ 0.215\\ 0.19\\ 0.165\\ 0.18\\
0.20\\ 0.22\\ 0.24\\ 0.23\\ 0.24\\ 0.23\\ 0.225\\ 0.23\\
0.24\\ 0.25\\ 0.465\\ 0.20\\ 0.175\\ 0.20\\ 0.215\\ 0.20\\
0.19\\ 0.21\\ 0.225\\ 0.21\\ 0.20\\ 0.195\\ 0.19\\ 0.21\\
0.24\\ 0.325\\ 0.19\\ 0.20\\ 0.215\\ 0.20\\ 0.19\\ 0.20\\
0.215\\ 0.125\\ 0.24\\ 0.21\\ 0.19\\ 0.18\\ 0.175\\ 0.18\\
0.19\\ 0.175\\ 0.165\\ 0.17\\ 0.175\\ 0.16\\ 0.15\\ 0.16\\
0.175\\ 0.22\\ 0.275\\ 0.30\\ 0.315\\ 0.24\\ 0.30\\
}\vO
\pgfplotstableread[row sep=\\]{y\\
5.95\\
5.65\\ 5.7\\ 5.8\\ 5.4\\ 5.05\\ 5.1\\ 5.2\\ 5.3\\
5.35\\ 5.7\\ 6.1\\ 6.5\\ 7.0\\ 6.0\\ 5.2\\ 5.0\\
4.9\\ 4.75\\ 4.6\\ 4.0\\ 3.4\\ 2.8\\ 3.7\\ 4.3\\
4.9\\ 4.6\\ 4.45\\ 4.6\\ 4.75\\ 4.4\\ 4.0\\ 4.4\\
4.75\\ 5.0\\ 5.2\\ 5.8\\ 6.4\\ 5.6\\ 5.2\\ 5.0\\
4.75\\ 4.6\\ 4.45\\ 4.0\\ 3.7\\ 3.85\\ 4.0\\ 3.8\\
3.55\\ 3.85\\ 4.15\\ 3.9\\ 3.7\\ 3.85\\ 4.0\\ 3.8\\
3.55\\ 3.7\\ 3.85\\ 3.7\\ 3.55\\ 3.5\\ 3.4\\ 3.3\\
3.25\\ 3.6\\ 8.0\\ 4.3\\ 4.0\\ 3.9\\ 3.85\\ 3.8\\
3.7\\ 3.5\\ 3.25\\ 3.3\\ 3.4\\ 3.3\\ 3.25\\ 3.5\\
3.85\\ 4.4\\ 4.9\\ 5.0\\ 5.2\\ 5.0\\ 4.75\\
}\cO

\pgfplotsset{
  base/.style={
    scale only axis, width=223.9pt, height=64.4pt,
    anchor=south west,
    xmin=2011.87, xmax=2022.73,
    tick align=inside, major tick length=2.4pt,
    axis line style={line width=0.6pt},
    every tick/.style={line width=0.6pt},
    scaled y ticks=false,
    yticklabel style={/pgf/number format/fixed},
  },
  leftax/.style={
    base,
    xtick={2012,2014,...,2022},
    xticklabels={2012,2014,2016,2018,2020,2022},
    xtick pos=both, ytick pos=left,
    every axis title shift=6pt,
    title style={font=\fontsize{11.3}{13}\selectfont, anchor=base},
  },
  rightax/.style={
    base,
    axis x line=none, axis y line*=right,
    y axis line style={tgray},
    every y tick/.style={tgray, line width=0.6pt},
    yticklabel style={tgray},
  },
  vloop/.style={black, line width=1.8pt, line join=round, mark=none},
  tcost/.style={tgray, line width=1.8pt, line join=round, mark=none},
}

% one panel: left axis with VLOOP, right axis with TCOST
\newcommand{\leftpanel}[7]{% x, y(bottom), title, table, ymin, ymax, ticks
  \begin{axis}[leftax, at={(#1*\pxu,-#2*\pxu)}, title={#3}, ymin=#5, ymax=#6, ytick={#7}]
    \addplot[vloop] table[x expr={2011.875+0.125*\coordindex}, y index=0] {#4};
  \end{axis}}
\newcommand{\rightpanel}[6]{% x, y(bottom), table, ymin, ymax, ticks
  \begin{axis}[rightax, at={(#1*\pxu,-#2*\pxu)}, ymin=#4, ymax=#5, ytick={#6}]
    \addplot[tcost] table[x expr={2011.875+0.125*\coordindex}, y index=0] {#3};
  \end{axis}}

\begin{document}
\begin{tikzpicture}
% row 1
\leftpanel{47}{166}{AUD-USD-JPY;27\%}{\vA}{0}{0.553}{0,0.5}
\rightpanel{47}{166}{\cA}{1.9}{10}{5,10}
\leftpanel{705}{166}{AUD-USD-NZD;35\%}{\vB}{0.17}{0.646}{0.2,0.4,0.6}
\rightpanel{705}{166}{\cB}{2.93}{10}{5,10}
\leftpanel{1362}{166}{CAD-USD-JPY;23\%}{\vC}{0}{0.546}{0,0.5}
\rightpanel{1362}{166}{\cC}{2.52}{7.52}{4,6}
% row 2
\leftpanel{47}{357}{EUR-USD-AUD;33\%}{\vD}{0.102}{0.4}{0.2,0.3,0.4}
\rightpanel{47}{357}{\cD}{2}{8}{2,4,6,8}
\leftpanel{705}{357}{EUR-USD-CAD;23\%}{\vE}{0.102}{0.476}{0.2,0.3,0.4}
\rightpanel{705}{357}{\cE}{1.98}{7.07}{4,6}
\leftpanel{1362}{357}{EUR-USD-CHF;34\%}{\vF}{0.11}{0.458}{0.2,0.3,0.4}
\rightpanel{1362}{357}{\cF}{2}{8}{2,4,6,8}
% row 3
\leftpanel{47}{548}{EUR-USD-DKK;15\%}{\vG}{0.0736}{0.255}{0.1,0.2}
\rightpanel{47}{548}{\cG}{2.52}{6.51}{4,6}
\leftpanel{705}{548}{EUR-USD-GBP;35\%}{\vH}{0.108}{0.4}{0.2,0.3,0.4}
\rightpanel{705}{548}{\cH}{2.45}{7.51}{4,6}
\leftpanel{1362}{548}{EUR-USD-JPY;27\%}{\vI}{0.102}{0.414}{0.2,0.3,0.4}
\rightpanel{1362}{548}{\cI}{1.95}{6.4}{2,4,6}
% row 4
\leftpanel{47}{739}{EUR-USD-NOK;40\%}{\vJ}{0}{0.762}{0,0.5}
\rightpanel{47}{739}{\cJ}{4.3}{15}{5,10,15}
\leftpanel{705}{739}{EUR-USD-SEK;39\%}{\vK}{0.117}{0.605}{0.2,0.4}
\rightpanel{705}{739}{\cK}{3.9}{13.1}{5,10}
\leftpanel{1362}{739}{GBP-USD-AUD;34\%}{\vL}{0.111}{0.4}{0.2,0.3,0.4}
\rightpanel{1362}{739}{\cL}{2.77}{10}{5,10}
% row 5
\leftpanel{47}{930}{GBP-USD-CAD;23\%}{\vM}{0.128}{0.466}{0.2,0.3,0.4}
\rightpanel{47}{930}{\cM}{3.07}{8}{4,6,8}
\leftpanel{705}{930}{GBP-USD-CHF;36\%}{\vN}{0.0874}{0.34}{0.1,0.2,0.3}
\rightpanel{705}{930}{\cN}{2.71}{10}{5,10}
\leftpanel{1362}{930}{GBP-USD-JPY;31\%}{\vO}{0}{0.5}{0,0.5}
\rightpanel{1362}{930}{\cO}{2}{8}{2,4,6,8}

% shared legend
\begin{axis}[hide axis, scale only axis, width=10pt, height=10pt,
  xmin=0, xmax=1, ymin=0, ymax=1,
  at={(933*\pxu,-989*\pxu)}, anchor=center,
  legend columns=2,
  legend image code/.code={\draw[#1] (0pt,0pt) -- (51.8pt,0pt);},
  legend style={draw=none, fill=none, at={(0.5,0.5)}, anchor=center,
    font=\fontsize{10.2}{12}\selectfont,
    nodes={inner xsep=4.3pt},
    /tikz/every even column/.append style={column sep=6pt}}]
  \addlegendimage{vloop}\addlegendentry{$VLOOP$}
  \addlegendimage{tcost}\addlegendentry{$TCOST$}
\end{axis}

\node[anchor=base west, inner sep=0pt, font=\fontsize{13.7}{16}\selectfont]
  at (0pt,-1078*\pxu) {arbitrage violations and round-trip transaction costs};

\pgfresetboundingbox
\useasboundingbox (0pt,0pt) rectangle (1884*\pxu,-1067*\pxu);
\end{tikzpicture}
\end{document}
